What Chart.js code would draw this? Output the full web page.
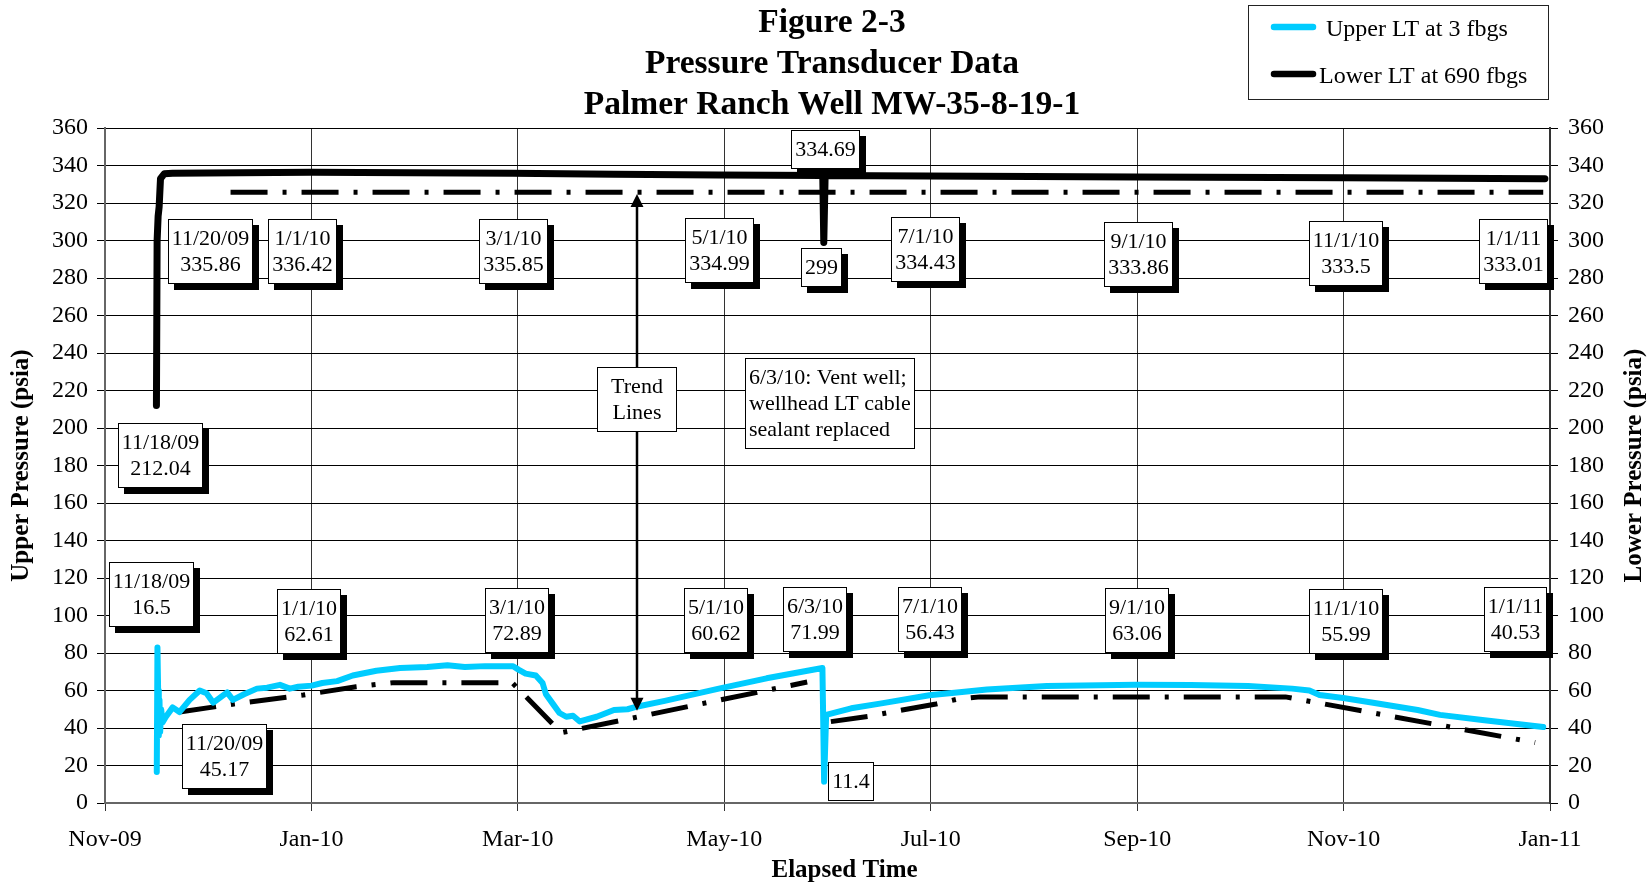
<!DOCTYPE html>
<html>
<head>
<meta charset="utf-8">
<title>Figure 2-3 Pressure Transducer Data</title>
<script src="https://cdn.jsdelivr.net/npm/chart.js@4.4.1/dist/chart.umd.min.js"></script>
<style>
  html, body { margin: 0; padding: 0; background: #fff; }
  canvas { display: block; }
</style>
</head>
<body>
<canvas id="myChart" width="1650" height="886"></canvas>
<script>
// x values are days since 11/1/09; the date axis steps every 61 days
const tickDays = [0, 61, 122, 183, 244, 305, 366, 427];
const tickLabels = ["Nov-09", "Jan-10", "Mar-10", "May-10", "Jul-10", "Sep-10", "Nov-10", "Jan-11"];

// upper LT (3 fbgs)
const upperDays = [15.3, 15.5, 15.7, 15.9, 16.1, 16.3, 16.6, 17, 18, 20, 22, 25, 28, 30, 32, 34.6, 36.1, 37.8,
  41.1, 44.9, 47.9, 51.7, 54.6, 57.1, 61.1, 64.2, 68.6, 73.2, 80.2, 87.2, 95.2, 101.2, 106.3, 112.3, 118.3, 120.6,
  122.3, 124.3, 127.3, 129.3, 130.3, 132.3, 134.3, 136.3, 138.3, 140.3, 145.3, 150.4, 154.4, 157.4, 165.4, 181.4,
  195.5, 212, 212.5, 213.1, 220.5, 229, 243.6, 260.6, 278.3, 304.7, 320.8, 337.8, 350.8, 355.9, 358.9, 365.9,
  372.9, 387.9, 394.5, 407, 425];
const upperPsi = [16.5, 83, 60, 36, 55, 38, 50, 43, 46, 51, 48.5, 55, 60, 58.5, 53.5, 57, 59, 55,
  58, 61, 61.5, 63, 61, 62, 62.6, 64, 65, 68, 70.5, 72, 72.5, 73.5, 72.5, 73, 73, 72.9,
  71, 69, 68, 64, 58, 53, 48, 46, 46.5, 43.5, 46, 49.6, 50, 51.5, 54.5, 61,
  66.5, 72, 11.4, 47, 50.5, 53, 57.5, 60.5, 62.4, 63.1, 63, 62.4, 61, 60, 57.6, 56,
  54, 49.6, 47, 44.3, 40.5];

// lower LT (690 fbgs)
const lowerDays = [15.2, 15.4, 15.7, 16.0, 16.4, 17.5, 20, 40, 61, 90, 120.3, 150.4, 181.4, 212.1, 212.4, 212.8,
  242.6, 304.7, 365.9, 425.5];
const lowerPsi = [212, 300, 313, 318, 333, 335.6, 335.9, 336.2, 336.4, 336.1, 335.9, 335.4, 335, 334.7, 299, 334.7,
  334.4, 333.9, 333.5, 333];

// trend lines (null = break after the 6/3/10 venting)
const upperTrendDays = [22, 38.1, 58.6, 74.2, 85.2, 120.3, 134.8, 207.5, 210.5, 214.5, 225.5, 235.6, 245.6, 251.6,
  258.6, 348.8, 422.6];
const upperTrendPsi = [48.5, 52.8, 57.6, 62, 64.2, 64.2, 37.5, 64.5, null, 43.4, 46.2, 49.6, 52.8, 55.3,
  56.6, 56.6, 32.2];
const lowerTrendDays = [37.1, 425];
const lowerTrendPsi = [325.8, 325.8];

// callout boxes, anchored at (day, psi) of the box centre
const callouts = [
  { lines: ["11/20/09", "335.86"], day: 31.3, psi: 294 },
  { lines: ["1/1/10", "336.42"], day: 58.5, psi: 294 },
  { lines: ["3/1/10", "335.85"], day: 120.7, psi: 294 },
  { lines: ["5/1/10", "334.99"], day: 181.7, psi: 294.5 },
  { lines: ["299"], day: 211.7, psi: 285.6 },
  { lines: ["334.69"], day: 212.8, psi: 348.8 },
  { lines: ["7/1/10", "334.43"], day: 242.6, psi: 295 },
  { lines: ["9/1/10", "333.86"], day: 305.3, psi: 292.7 },
  { lines: ["11/1/10", "333.5"], day: 366.7, psi: 293 },
  { lines: ["1/1/11", "333.01"], day: 416.1, psi: 294 },
  { lines: ["11/18/09", "212.04"], day: 16.5, psi: 185.3 },
  { lines: ["11/18/09", "16.5"], day: 13.6, psi: 111 },
  { lines: ["11/20/09", "45.17"], day: 35.2, psi: 24.8 },
  { lines: ["1/1/10", "62.61"], day: 60.3, psi: 96.8 },
  { lines: ["3/1/10", "72.89"], day: 121.8, psi: 97.3 },
  { lines: ["5/1/10", "60.62"], day: 180.5, psi: 97.6 },
  { lines: ["6/3/10", "71.99"], day: 209.8, psi: 97.9 },
  { lines: ["11.4"], day: 220.4, psi: 11.7, shadow: false },
  { lines: ["7/1/10", "56.43"], day: 243.9, psi: 97.9 },
  { lines: ["9/1/10", "63.06"], day: 305.1, psi: 97.6 },
  { lines: ["11/1/10", "55.99"], day: 366.7, psi: 96.8 },
  { lines: ["1/1/11", "40.53"], day: 416.8, psi: 97.9 },
  { lines: ["Trend", "Lines"], day: 157.2, psi: 215, shadow: false, width: 80 },
  { lines: ["6/3/10: Vent well;", "wellhead LT cable", "sealant replaced"], day: 214.1, psi: 213.3, shadow: false, align: "left" }
];
const trendArrow = { day: 157.2, top: 324.8, bottom: 49.2 };

const serif = "'Liberation Serif', 'Times New Roman', serif";

function toPoints(xs, ys) {
  return xs.map((x, i) => ({ x: x, y: ys[i] }));
}

function drawCallout(ctx, c, x, y) {
  const lineH = 26;
  ctx.font = "22px " + serif;
  const textW = Math.max(...c.lines.map(s => ctx.measureText(s).width));
  const w = c.width || Math.round(textW + 8);
  const h = c.lines.length * lineH + 13;
  const left = Math.round(x - w / 2), top = Math.round(y - h / 2);
  if (c.shadow !== false) {
    ctx.fillStyle = "#000";
    ctx.fillRect(left + 6, top + 6, w, h);
  }
  ctx.fillStyle = "#fff";
  ctx.fillRect(left, top, w, h);
  ctx.strokeStyle = "#000";
  ctx.lineWidth = 1;
  ctx.strokeRect(left + 0.5, top + 0.5, w - 1, h - 1);
  ctx.fillStyle = "#000";
  ctx.textBaseline = "middle";
  ctx.textAlign = c.align === "left" ? "left" : "center";
  const tx = c.align === "left" ? left + 4 : left + w / 2;
  c.lines.forEach((s, i) => ctx.fillText(s, tx, top + 7.5 + lineH * (i + 0.5)));
}

const annotationPlugin = {
  id: "callouts",
  afterDatasetsDraw(chart) {
    const ctx = chart.ctx;
    const xs = chart.scales.x, ys = chart.scales.y;
    ctx.save();
    // double headed arrow pointing at both trend lines
    const ax = Math.round(xs.getPixelForValue(trendArrow.day));
    const at = ys.getPixelForValue(trendArrow.top);
    const ab = ys.getPixelForValue(trendArrow.bottom);
    ctx.strokeStyle = "#000";
    ctx.fillStyle = "#000";
    ctx.lineWidth = 2.5;
    ctx.beginPath();
    ctx.moveTo(ax, at + 10);
    ctx.lineTo(ax, ab - 10);
    ctx.stroke();
    ctx.beginPath();
    ctx.moveTo(ax, at); ctx.lineTo(ax - 6.5, at + 13); ctx.lineTo(ax + 6.5, at + 13); ctx.closePath();
    ctx.moveTo(ax, ab); ctx.lineTo(ax - 6.5, ab - 13); ctx.lineTo(ax + 6.5, ab - 13); ctx.closePath();
    ctx.fill();

    callouts.forEach(c => drawCallout(ctx, c, xs.getPixelForValue(c.day), ys.getPixelForValue(c.psi)));
    ctx.restore();
  },
  afterDraw(chart) {
    const ctx = chart.ctx;
    const area = chart.chartArea;
    const midY = (area.top + area.bottom) / 2;
    ctx.save();
    ctx.fillStyle = "#000";
    ctx.textAlign = "center";
    ctx.textBaseline = "middle";
    ctx.font = "bold 25px " + serif;
    // axis titles
    ctx.save();
    ctx.translate(area.left - 83, midY);
    ctx.rotate(-Math.PI / 2);
    ctx.fillText("Upper Pressure (psia)", 0, 0);
    ctx.restore();
    ctx.save();
    ctx.translate(area.right + 85, midY);
    ctx.rotate(-Math.PI / 2);
    ctx.fillText("Lower Pressure (psia)", 0, 0);
    ctx.restore();
    ctx.fillText("Elapsed Time", (area.left + area.right) / 2 + 17, area.bottom + 68);

    // legend box
    const lx = 1248, ly = 5, lw = 300, lh = 94;
    ctx.fillStyle = "#fff";
    ctx.fillRect(lx, ly, lw, lh);
    ctx.strokeStyle = "#222";
    ctx.lineWidth = 1;
    ctx.strokeRect(lx + 0.5, ly + 0.5, lw, lh);
    const rows = [{ ds: 0, y: 27, tx: 1326 }, { ds: 1, y: 74, tx: 1319 }];
    ctx.font = "24px " + serif;
    ctx.textAlign = "left";
    rows.forEach(r => {
      const ds = chart.data.datasets[r.ds];
      ctx.strokeStyle = ds.borderColor;
      ctx.lineWidth = 6.5;
      ctx.lineCap = "round";
      ctx.beginPath();
      ctx.moveTo(1274, r.y);
      ctx.lineTo(1313, r.y);
      ctx.stroke();
      ctx.fillStyle = "#000";
      ctx.fillText(ds.label, r.tx, r.y + 3);
    });
    ctx.restore();
  }
};

const tickFont = { family: serif, size: 24 };

new Chart(document.getElementById("myChart").getContext("2d"), {
  type: "line",
  data: {
    datasets: [
      {
        label: "Upper LT at 3 fbgs",
        data: toPoints(upperDays, upperPsi),
        borderColor: "#00CCFF",
        borderWidth: 6,
        yAxisID: "y"
      },
      {
        label: "Lower LT at 690 fbgs",
        data: toPoints(lowerDays, lowerPsi),
        borderColor: "#000000",
        borderWidth: 7,
        yAxisID: "y2"
      },
      {
        label: "Upper trend",
        data: toPoints(upperTrendDays, upperTrendPsi),
        borderColor: "#000000",
        borderWidth: 5,
        borderDash: [37, 15, 4, 15],
        borderCapStyle: "butt",
        spanGaps: false,
        yAxisID: "y"
      },
      {
        label: "Lower trend",
        data: toPoints(lowerTrendDays, lowerTrendPsi),
        borderColor: "#000000",
        borderWidth: 5,
        borderDash: [37, 15, 4, 15],
        borderCapStyle: "butt",
        yAxisID: "y2"
      }
    ]
  },
  options: {
    responsive: false,
    animation: false,
    events: [],
    layout: { padding: { left: 14, right: 0, top: 0, bottom: 0 } },
    elements: {
      point: { radius: 0 },
      line: { tension: 0, borderJoinStyle: "round", borderCapStyle: "round" }
    },
    plugins: {
      legend: { display: false },
      tooltip: { enabled: false },
      title: {
        display: true,
        text: ["Figure 2-3", "Pressure Transducer Data", "Palmer Ranch Well MW-35-8-19-1"],
        color: "#000",
        font: { family: serif, size: 33.5, weight: "bold", lineHeight: 1.2239 },
        padding: { top: 3, bottom: 2 }
      }
    },
    scales: {
      x: {
        type: "linear",
        min: 0,
        max: 427,
        afterBuildTicks: (scale) => { scale.ticks = tickDays.map(v => ({ value: v })); },
        afterFit: (scale) => { scale.height = 83; },
        ticks: {
          autoSkip: false,
          maxRotation: 0,
          padding: 14,
          color: "#000",
          font: tickFont,
          callback: (value, index) => tickLabels[index]
        },
        grid: { color: "#333", lineWidth: 1, tickLength: 8, tickColor: "#333" },
        border: { color: "#666", width: 2 }
      },
      y: {
        type: "linear",
        position: "left",
        min: 0,
        max: 360,
        afterFit: (scale) => { scale.width = 91; },
        ticks: { stepSize: 20, padding: 9, color: "#000", font: tickFont },
        grid: { color: "#000", lineWidth: 1, tickLength: 8, tickColor: "#000" },
        border: { color: "#666", width: 2 }
      },
      y2: {
        type: "linear",
        position: "right",
        min: 0,
        max: 360,
        afterFit: (scale) => { scale.width = 100; },
        ticks: { stepSize: 20, padding: 10, color: "#000", font: tickFont },
        grid: { drawOnChartArea: false, tickLength: 8, tickColor: "#000" },
        border: { color: "#333", width: 2 }
      }
    }
  },
  plugins: [annotationPlugin]
});
</script>
</body>
</html>
